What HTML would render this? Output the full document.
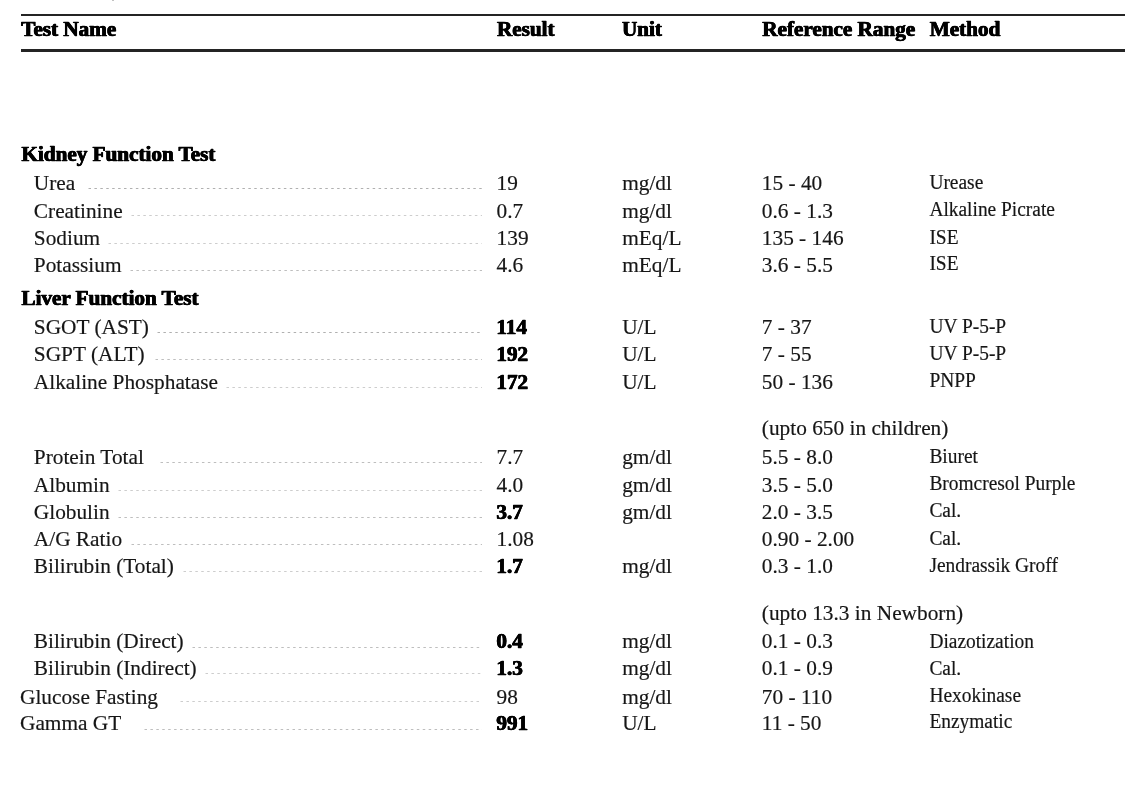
<!DOCTYPE html>
<html><head><meta charset="utf-8"><title>Lab Report</title>
<style>
html,body{margin:0;padding:0;background:#fff;}
body{width:1140px;height:793px;position:relative;overflow:hidden;font-family:"Liberation Serif",serif;color:#161616;}
span{position:absolute;white-space:pre;font-size:21.33px;line-height:1;transform-origin:0 83.75%;transform:scaleY(1.03);-webkit-text-stroke:0.18px #161616;}
span.b{font-weight:bold;color:#000;transform:none;-webkit-text-stroke:0.4px #000;text-shadow:0.4px 0 0 #000,-0.4px 0 0 #000;letter-spacing:-0.08px;}
span.m{font-size:19.42px;}
.hl{position:absolute;left:21px;width:1104px;background:#242424;}
i.ld{position:absolute;height:0;border-top:1px dashed #c9c9c9;}
#pg{position:absolute;left:0;top:0;width:1140px;height:793px;will-change:transform;background:#fff;}
</style></head><body><div id="pg">
<div style="position:absolute;left:112px;top:0;width:2px;height:1px;background:#c2c2c2"></div>
<div class="hl" style="top:13.7px;height:2.35px"></div>
<div class="hl" style="top:49.35px;height:2.8px"></div>
<svg width="1140" height="793" style="position:absolute;left:0;top:0" fill="none" stroke="#b6b6b6" stroke-width="1" stroke-dasharray="2.5 3.42">
<line x1="88.5" y1="188.5" x2="482.0" y2="188.5" stroke="#b0b0b0"/>
<line x1="131.5" y1="215.5" x2="482.0" y2="215.5" stroke="#cdcdcd"/>
<line x1="108.5" y1="243.5" x2="482.0" y2="243.5" stroke="#cdcdcd"/>
<line x1="130.5" y1="270.5" x2="482.0" y2="270.5" stroke="#bebebe"/>
<line x1="157.5" y1="332.5" x2="482.0" y2="332.5" stroke="#b0b0b0"/>
<line x1="155.5" y1="359.5" x2="482.0" y2="359.5" stroke="#bebebe"/>
<line x1="226.5" y1="387.5" x2="482.0" y2="387.5" stroke="#cdcdcd"/>
<line x1="160.5" y1="462.5" x2="482.0" y2="462.5" stroke="#bebebe"/>
<line x1="118.5" y1="490.5" x2="482.0" y2="490.5" stroke="#cdcdcd"/>
<line x1="118.5" y1="517.5" x2="482.0" y2="517.5" stroke="#bebebe"/>
<line x1="131.5" y1="544.5" x2="482.0" y2="544.5" stroke="#bebebe"/>
<line x1="183.5" y1="571.5" x2="482.0" y2="571.5" stroke="#cdcdcd"/>
<line x1="192.5" y1="647.5" x2="482.0" y2="647.5" stroke="#bebebe"/>
<line x1="205.5" y1="673.5" x2="482.0" y2="673.5" stroke="#cdcdcd"/>
<line x1="180.5" y1="701.5" x2="482.0" y2="701.5" stroke="#cdcdcd"/>
<line x1="144.5" y1="729.5" x2="482.0" y2="729.5" stroke="#bebebe"/>
</svg>
<span class="b h" style="left:21.20px;top:18.94px;">Test Name</span>
<span class="b h" style="left:496.90px;top:18.94px;">Result</span>
<span class="b h" style="left:621.90px;top:18.94px;">Unit</span>
<span class="b h" style="left:762.20px;top:18.94px;">Reference Range</span>
<span class="b h" style="left:929.70px;top:18.94px;">Method</span>
<span class="b" style="left:21.40px;top:144.09px;">Kidney Function Test</span>
<span class="b" style="left:21.40px;top:288.09px;">Liver Function Test</span>
<span style="left:33.80px;top:173.39px;">Urea</span>
<span style="left:496.60px;top:173.39px;">19</span>
<span style="left:622.20px;top:173.39px;">mg/dl</span>
<span style="left:761.80px;top:173.39px;">15 - 40</span>
<span class="m" style="left:929.40px;top:172.99px;">Urease</span>
<span style="left:33.80px;top:200.59px;">Creatinine</span>
<span style="left:496.60px;top:200.59px;">0.7</span>
<span style="left:622.20px;top:200.59px;">mg/dl</span>
<span style="left:761.80px;top:200.59px;">0.6 - 1.3</span>
<span class="m" style="left:929.40px;top:200.09px;">Alkaline Picrate</span>
<span style="left:33.80px;top:228.09px;">Sodium</span>
<span style="left:496.60px;top:228.09px;">139</span>
<span style="left:622.20px;top:228.09px;">mEq/L</span>
<span style="left:761.80px;top:228.09px;">135 - 146</span>
<span class="m" style="left:929.40px;top:227.69px;">ISE</span>
<span style="left:33.80px;top:255.09px;">Potassium</span>
<span style="left:496.60px;top:255.09px;">4.6</span>
<span style="left:622.20px;top:255.09px;">mEq/L</span>
<span style="left:761.80px;top:255.09px;">3.6 - 5.5</span>
<span class="m" style="left:929.40px;top:254.29px;">ISE</span>
<span style="left:33.80px;top:316.84px;">SGOT (AST)</span>
<span class="b" style="left:496.30px;top:316.84px;">114</span>
<span style="left:622.20px;top:316.84px;">U/L</span>
<span style="left:761.80px;top:316.84px;">7 - 37</span>
<span class="m" style="left:929.40px;top:317.24px;">UV P-5-P</span>
<span style="left:33.80px;top:344.09px;">SGPT (ALT)</span>
<span class="b" style="left:496.30px;top:344.09px;">192</span>
<span style="left:622.20px;top:344.09px;">U/L</span>
<span style="left:761.80px;top:344.09px;">7 - 55</span>
<span class="m" style="left:929.40px;top:344.39px;">UV P-5-P</span>
<span style="left:33.80px;top:371.84px;">Alkaline Phosphatase</span>
<span class="b" style="left:496.30px;top:371.84px;">172</span>
<span style="left:622.20px;top:371.84px;">U/L</span>
<span style="left:761.80px;top:371.84px;">50 - 136</span>
<span class="m" style="left:929.40px;top:371.04px;">PNPP</span>
<span style="left:33.80px;top:446.84px;">Protein Total</span>
<span style="left:496.60px;top:446.84px;">7.7</span>
<span style="left:622.20px;top:446.84px;">gm/dl</span>
<span style="left:761.80px;top:446.84px;">5.5 - 8.0</span>
<span class="m" style="left:929.40px;top:446.74px;">Biuret</span>
<span style="left:33.80px;top:474.94px;">Albumin</span>
<span style="left:496.60px;top:474.94px;">4.0</span>
<span style="left:622.20px;top:474.94px;">gm/dl</span>
<span style="left:761.80px;top:474.94px;">3.5 - 5.0</span>
<span class="m" style="left:929.40px;top:473.94px;">Bromcresol Purple</span>
<span style="left:33.80px;top:501.59px;">Globulin</span>
<span class="b" style="left:496.30px;top:501.59px;">3.7</span>
<span style="left:622.20px;top:501.59px;">gm/dl</span>
<span style="left:761.80px;top:501.59px;">2.0 - 3.5</span>
<span class="m" style="left:929.40px;top:501.19px;">Cal.</span>
<span style="left:33.80px;top:528.84px;">A/G Ratio</span>
<span style="left:496.60px;top:528.84px;">1.08</span>
<span style="left:761.80px;top:528.84px;">0.90 - 2.00</span>
<span class="m" style="left:929.40px;top:529.14px;">Cal.</span>
<span style="left:33.80px;top:556.09px;">Bilirubin (Total)</span>
<span class="b" style="left:496.30px;top:556.09px;">1.7</span>
<span style="left:622.20px;top:556.09px;">mg/dl</span>
<span style="left:761.80px;top:556.09px;">0.3 - 1.0</span>
<span class="m" style="left:929.40px;top:556.29px;">Jendrassik Groff</span>
<span style="left:33.80px;top:631.39px;">Bilirubin (Direct)</span>
<span class="b" style="left:496.30px;top:631.39px;">0.4</span>
<span style="left:622.20px;top:631.39px;">mg/dl</span>
<span style="left:761.80px;top:631.39px;">0.1 - 0.3</span>
<span class="m" style="left:929.40px;top:631.69px;">Diazotization</span>
<span style="left:33.80px;top:658.39px;">Bilirubin (Indirect)</span>
<span class="b" style="left:496.30px;top:658.39px;">1.3</span>
<span style="left:622.20px;top:658.39px;">mg/dl</span>
<span style="left:761.80px;top:658.39px;">0.1 - 0.9</span>
<span class="m" style="left:929.40px;top:659.19px;">Cal.</span>
<span style="left:20.00px;top:686.89px;">Glucose Fasting</span>
<span style="left:496.60px;top:686.89px;">98</span>
<span style="left:622.20px;top:686.89px;">mg/dl</span>
<span style="left:761.80px;top:686.89px;">70 - 110</span>
<span class="m" style="left:929.40px;top:686.39px;">Hexokinase</span>
<span style="left:20.00px;top:713.39px;">Gamma GT</span>
<span class="b" style="left:496.30px;top:713.39px;">991</span>
<span style="left:622.20px;top:713.39px;">U/L</span>
<span style="left:761.80px;top:713.39px;">11 - 50</span>
<span class="m" style="left:929.40px;top:712.49px;">Enzymatic</span>
<span style="left:761.80px;top:418.09px;">(upto 650 in children)</span>
<span style="left:761.80px;top:603.19px;">(upto 13.3 in Newborn)</span>
</div></body></html>
